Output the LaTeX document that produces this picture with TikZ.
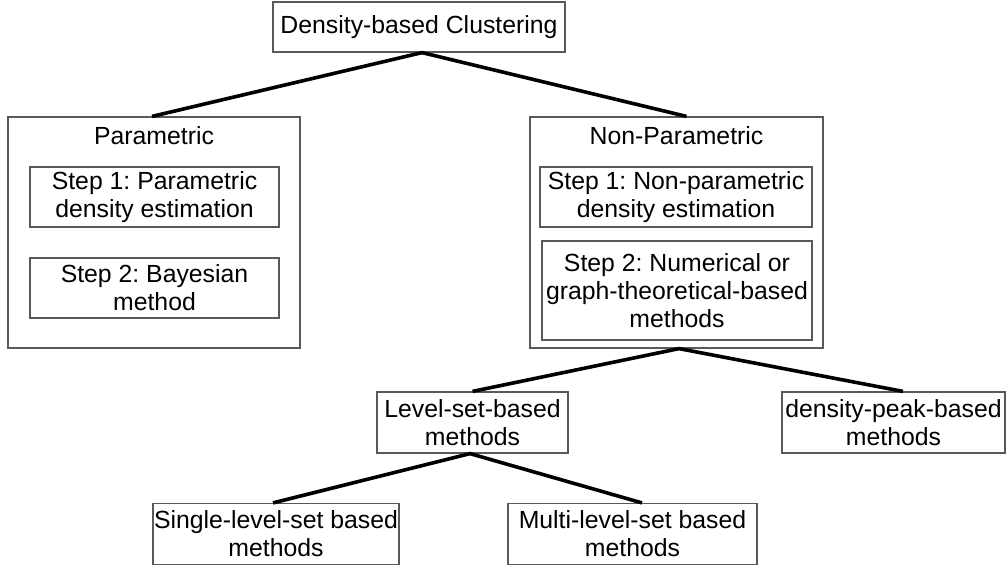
\documentclass[tikz,border=0pt]{standalone}
\usepackage{fontspec}
\setmainfont{Liberation Sans}
\frenchspacing
\begin{document}
\begin{tikzpicture}[x=1pt,y=-1pt,
  every node/.style={font=\fontsize{24.8pt}{28pt}\selectfont, align=center, inner sep=0pt},
  box/.style={draw=black!65, line width=1.2pt, fill=white, minimum width=#1},
  tbox/.style={box=#1, minimum height=60pt},
  conn/.style={line width=3.6pt, black}
]
\useasboundingbox (0,0) rectangle (1008,566);
% top
\node[box=292pt, minimum height=50pt] (top) at (419,27) {Density-based Clustering};
% parametric
\node[box=292pt, minimum height=231pt] (param) at (154,232.5) {};
\node[anchor=base] (paramt) at (154,144) {Parametric};
\node[tbox=249pt] (p1) at (154.5,197) {Step 1: Parametric\\density estimation};
\node[tbox=249pt] (p2) at (154.5,288) {Step 2: Bayesian\\method};
% non-parametric
\node[box=293pt, minimum height=231pt] (np) at (676.5,232.5) {};
\node[anchor=base] (npt) at (676.5,144) {Non-Parametric};
\node[tbox=272pt] (n1) at (676,197) {Step 1: Non-parametric\\density estimation};
\node[box=270pt, minimum height=99pt] (n2) at (677,290.5) {Step 2: Numerical or\\graph-theoretical-based\\methods};
% lower
\node[box=191pt, minimum height=61pt] (ls) at (472.5,422.5) {Level-set-based\\methods};
\node[box=223pt, minimum height=61pt] (dp) at (893.5,422.5) {density-peak-based\\methods};
\node[box=246pt, minimum height=61pt] (sl) at (276,534) {Single-level-set based\\methods};
\node[box=249pt, minimum height=61pt] (ml) at (632.5,534) {Multi-level-set based\\methods};
% connectors
\draw[conn] ([xshift=-2pt]param.north) -- ([xshift=3pt]top.south) -- ([xshift=10pt]np.north);
\draw[conn] (ls.north) -- ([xshift=2.5pt]np.south) -- ([xshift=9.5pt]dp.north);
\draw[conn] ([xshift=-3pt]sl.north) -- ([xshift=-2.5pt]ls.south) -- ([xshift=9.5pt]ml.north);
\end{tikzpicture}
\end{document}
